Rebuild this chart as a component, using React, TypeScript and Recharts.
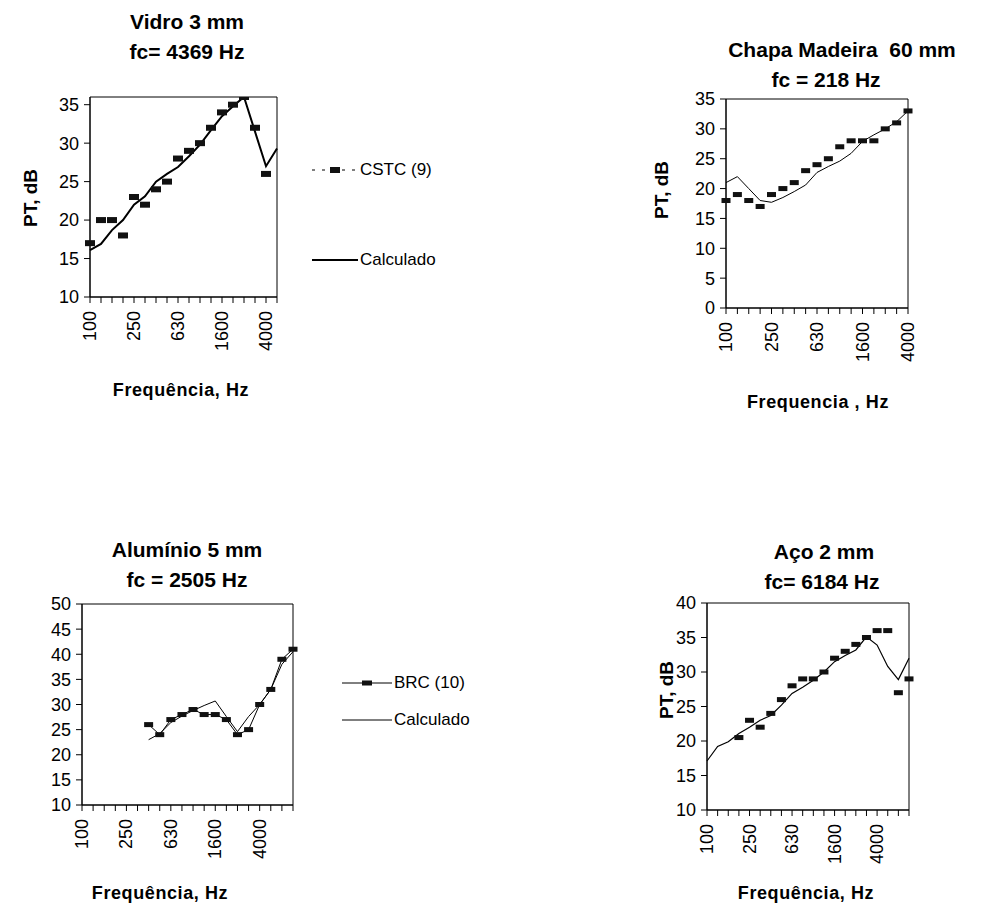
import { LineChart, Line, XAxis, YAxis, ReferenceArea } from "recharts";

// third-octave bands, Hz
const bands = [
  "100", "125", "160", "200", "250", "315", "400", "500", "630", "800",
  "1000", "1250", "1600", "2000", "2500", "3150", "4000", "5000", "6300", "8000",
];
const shownBands = ["100", "250", "630", "1600", "4000"];

// Vidro 3 mm
const vidroCstc = [17, 20, 20, 18, 23, 22, 24, 25, 28, 29, 30, 32, 34, 35, 36, 32, 26, null];
const vidroCalc = [16.1, 16.9, 18.7, 20, 22, 23.1, 25, 26, 26.9, 28.3, 29.8, 31.7, 33.5, 34.8, 36, 31.5, 27, 29.3];

// Chapa madeira 60 mm
const madeiraMed = [18, 19, 18, 17, 19, 20, 21, 23, 24, 25, 27, 28, 28, 28, 30, 31, 33];
const madeiraCalc = [21, 22, 20, 18, 17.7, 18.5, 19.5, 20.6, 22.7, 23.7, 24.6, 25.9, 27.9, 29, 30, 31.2, 33];

// Aluminio 5 mm
const aluminioBrc = [null, null, null, null, null, null, 26, 24, 27, 28, 29, 28, 28, 27, 24, 25, 30, 33, 39, 41];
const aluminioCalc = [null, null, null, null, null, null, 23, 24.2, 26.4, 27.7, 28.8, 29.8, 30.7, 27.6, 24.6, 27.6, 30, 33, 38, 40.5];

// Aco 2 mm
const acoMed = [null, null, null, 20.5, 23, 22, 24, 26, 28, 29, 29, 30, 32, 33, 34, 35, 36, 36, 27, 29];
const acoCalc = [17.1, 19.2, 19.9, 21.1, 22, 23, 23.7, 25.2, 26.9, 27.8, 28.8, 30, 31.5, 32.4, 33.2, 35.1, 33.9, 30.8, 28.9, 32];

const FONT = '"Liberation Sans", Arial, sans-serif';

const rowsOf = (n: number, m: (number | null)[], c: (number | null)[]) =>
  bands.slice(0, n).map((f, i) => ({ f, m: m[i] ?? null, c: c[i] ?? null }));

const FreqTick = (p: any) => {
  const { x, y, payload } = p;
  if (!shownBands.includes(payload.value)) return <g />;
  const ty = y + 6;
  return (
    <text
      x={x}
      y={ty}
      transform={`rotate(-90 ${x} ${ty})`}
      textAnchor="end"
      dominantBaseline="central"
      fontSize={18}
      fontFamily={FONT}
      fill="#000"
    >
      {payload.value}
    </text>
  );
};

const makeMark = (w: number, h: number) => (p: any) => {
  const { cx, cy, value, index } = p;
  if (value == null || cx == null || cy == null) return <g key={`m${index}`} />;
  return <rect key={`m${index}`} x={cx - w / 2} y={cy - h / 2} width={w} height={h} fill="#111" />;
};

type Box = { x: number; y: number; w: number; h: number };

function Panel(props: {
  box: Box;
  rows: any[];
  domain: [number, number];
  ticks: number[];
  calcWidth: number;
  markLine?: boolean;
  mark: [number, number];
}) {
  const { box, rows, domain, ticks, calcWidth, markLine, mark } = props;
  const yw = 60;
  const top = 10;
  const right = 14;
  const xh = 70;
  return (
    <div style={{ position: "absolute", left: box.x - yw, top: box.y - top }}>
      <LineChart
        width={box.w + yw + right}
        height={box.h + top + xh}
        data={rows}
        margin={{ top, right, left: 0, bottom: 0 }}
      >
        <XAxis
          dataKey="f"
          interval={0}
          height={xh}
          tick={FreqTick}
          tickSize={6}
          axisLine={{ stroke: "#000" }}
          tickLine={{ stroke: "#000" }}
        />
        <YAxis
          domain={domain}
          ticks={ticks}
          width={yw}
          allowDataOverflow
          interval={0}
          tickSize={6}
          tickMargin={5}
          axisLine={{ stroke: "#000" }}
          tickLine={{ stroke: "#000" }}
          tick={{ fill: "#000", fontSize: 18, fontFamily: FONT }}
        />
        <ReferenceArea y1={domain[0]} y2={domain[1]} fill="none" stroke="#000" strokeWidth={1} />
        <Line
          dataKey="c"
          stroke="#000"
          strokeWidth={calcWidth}
          dot={false}
          activeDot={false}
          isAnimationActive={false}
        />
        <Line
          dataKey="m"
          stroke={markLine ? "#000" : "none"}
          strokeWidth={1}
          dot={makeMark(mark[0], mark[1])}
          activeDot={false}
          isAnimationActive={false}
        />
      </LineChart>
    </div>
  );
}

function Txt(props: { x: number; y: number; size: number; bold?: boolean; rotate?: boolean; spacing?: number; children: any }) {
  const { x, y, size, bold, rotate, spacing, children } = props;
  return (
    <div
      style={{
        position: "absolute",
        left: x,
        top: y,
        transform: `translate(-50%, -50%)${rotate ? " rotate(-90deg)" : ""}`,
        fontFamily: FONT,
        fontSize: size,
        fontWeight: bold ? 700 : 400,
        letterSpacing: spacing ?? 0,
        whiteSpace: "pre",
        color: "#000",
        lineHeight: 1,
      }}
    >
      {children}
    </div>
  );
}

function LegendRow(props: { x: number; y: number; len: number; label: string; kind: "dash" | "thick" | "thin" | "markline" }) {
  const { x, y, len, label, kind } = props;
  const mid = len / 2;
  return (
    <div style={{ position: "absolute", left: x, top: y - 10, height: 20, display: "flex", alignItems: "center" }}>
      <svg width={len} height={20} style={{ display: "block" }}>
        {kind === "dash" && (
          <>
            <line x1={0} y1={10} x2={len} y2={10} stroke="#000" strokeWidth={1} strokeDasharray="3 7" />
            <rect x={mid - 5} y={7} width={10} height={6} fill="#111" />
          </>
        )}
        {kind === "thick" && <line x1={0} y1={10} x2={len} y2={10} stroke="#000" strokeWidth={2} />}
        {kind === "thin" && <line x1={0} y1={10} x2={len} y2={10} stroke="#000" strokeWidth={1} />}
        {kind === "markline" && (
          <>
            <line x1={0} y1={10} x2={len} y2={10} stroke="#000" strokeWidth={1} />
            <rect x={mid - 5} y={7.5} width={10} height={5} fill="#111" />
          </>
        )}
      </svg>
      <span style={{ fontFamily: FONT, fontSize: 17, marginLeft: 2, color: "#000" }}>{label}</span>
    </div>
  );
}

export default function App() {
  return (
    <div style={{ position: "absolute", left: 0, top: 0, width: 991, height: 915, background: "#fff" }}>
      {/* Vidro 3 mm */}
      <Txt x={187} y={21} size={21} bold>Vidro 3 mm</Txt>
      <Txt x={187} y={51} size={21} bold>fc= 4369 Hz</Txt>
      <Txt x={30} y={198} size={19} bold rotate>PT, dB</Txt>
      <Txt x={181} y={390} size={18} bold spacing={0.6}>Frequência, Hz</Txt>
      <Panel
        box={{ x: 90, y: 97, w: 187, h: 200 }}
        rows={rowsOf(18, vidroCstc, vidroCalc)}
        domain={[10, 36]}
        ticks={[10, 15, 20, 25, 30, 35]}
        calcWidth={2}
        mark={[10, 6]}
      />
      <LegendRow x={312} y={170} len={46} label="CSTC (9)" kind="dash" />
      <LegendRow x={312} y={260} len={46} label="Calculado" kind="thick" />

      {/* Chapa madeira */}
      <Txt x={842} y={49} size={21} bold>Chapa Madeira  60 mm</Txt>
      <Txt x={826} y={79} size={21} bold>fc = 218 Hz</Txt>
      <Txt x={661} y={190} size={19} bold rotate>PT, dB</Txt>
      <Txt x={818} y={402} size={18} bold spacing={0.6}>Frequencia , Hz</Txt>
      <Panel
        box={{ x: 726, y: 99, w: 182, h: 209 }}
        rows={rowsOf(17, madeiraMed, madeiraCalc)}
        domain={[0, 35]}
        ticks={[0, 5, 10, 15, 20, 25, 30, 35]}
        calcWidth={1}
        mark={[9, 5]}
      />

      {/* Aluminio 5 mm */}
      <Txt x={187} y={549} size={21} bold>Alumínio 5 mm</Txt>
      <Txt x={187} y={579} size={21} bold>fc = 2505 Hz</Txt>
      <Txt x={160} y={893} size={18} bold spacing={0.6}>Frequência, Hz</Txt>
      <Panel
        box={{ x: 82, y: 604, w: 211, h: 201 }}
        rows={rowsOf(20, aluminioBrc, aluminioCalc)}
        domain={[10, 50]}
        ticks={[10, 15, 20, 25, 30, 35, 40, 45, 50]}
        calcWidth={1}
        markLine
        mark={[9, 5]}
      />
      <LegendRow x={342} y={683} len={50} label="BRC (10)" kind="markline" />
      <LegendRow x={342} y={720} len={50} label="Calculado" kind="thin" />

      {/* Aco 2 mm */}
      <Txt x={824} y={551} size={21} bold>Aço 2 mm</Txt>
      <Txt x={822} y={581} size={21} bold>fc= 6184 Hz</Txt>
      <Txt x={666} y={690} size={19} bold rotate>PT, dB</Txt>
      <Txt x={806} y={893} size={18} bold spacing={0.6}>Frequência, Hz</Txt>
      <Panel
        box={{ x: 707, y: 603, w: 202, h: 207 }}
        rows={rowsOf(20, acoMed, acoCalc)}
        domain={[10, 40]}
        ticks={[10, 15, 20, 25, 30, 35, 40]}
        calcWidth={1.2}
        mark={[9, 5]}
      />
    </div>
  );
}
